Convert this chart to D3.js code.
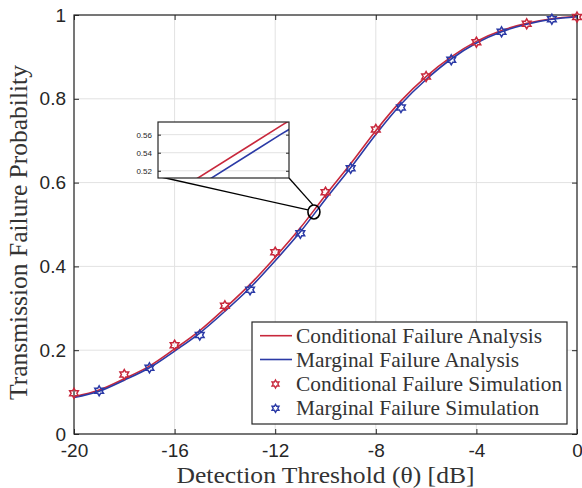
<!DOCTYPE html>
<html><head><meta charset="utf-8">
<script src="https://cdn.jsdelivr.net/npm/d3@7"></script>
<style>body{margin:0;background:#fff;} svg{display:block;}</style>
</head><body>
<script>
// ---- data ----
const analysisX = [-20,-19,-18,-17,-16,-15,-14,-13,-12,-11,-10,-9,-8,-7,-6,-5,-4,-3,-2,-1,0];
const conditionalAnalysis = [0.089,0.105,0.132,0.162,0.203,0.247,0.300,0.357,0.422,0.492,0.570,0.645,0.724,0.795,0.853,0.900,0.937,0.963,0.980,0.991,0.997];
const marginalAnalysis    = [0.087,0.102,0.1285,0.158,0.198,0.241,0.293,0.349,0.4135,0.4825,0.5605,0.6355,0.715,0.787,0.846,0.895,0.933,0.960,0.978,0.990,0.996];
const conditionalSimX = [-20,-18,-16,-14,-12,-10,-8,-6,-4,-2,0];
const conditionalSim  = [0.097,0.142,0.212,0.306,0.434,0.577,0.727,0.853,0.935,0.979,0.995];
const marginalSimX = [-19,-17,-15,-13,-11,-9,-7,-5,-3,-1];
const marginalSim  = [0.103,0.158,0.236,0.344,0.479,0.634,0.779,0.893,0.960,0.990];
const xTicks = [-20,-16,-12,-8,-4,0];
const yTicks = [0,0.2,0.4,0.6,0.8,1];
const insetXDomain = [-11.1,-9.93];
const insetYDomain = [0.512,0.574];
const insetYTicks = [0.52,0.54,0.56];
const zoomCenter = [-10.46,0.53];
const seriesNames = ["Conditional Failure Analysis","Marginal Failure Analysis","Conditional Failure Simulation","Marginal Failure Simulation"];

const RED = "#c8283c", BLUE = "#2b3aa6";
const W = 582, H = 488;
const M = {l:74, r:577, t:15, b:434};

const svg = d3.select("body").append("svg").attr("width",W).attr("height",H);
const x = d3.scaleLinear().domain([-20,0]).range([M.l,M.r]);
const y = d3.scaleLinear().domain([0,1]).range([M.b,M.t]);

// grid
const g = svg.append("g");
g.selectAll(".gx").data(xTicks).join("line")
  .attr("x1",d=>x(d)).attr("x2",d=>x(d)).attr("y1",M.t).attr("y2",M.b)
  .attr("stroke","#e2e2e2").attr("stroke-width",1);
g.selectAll(".gy").data(yTicks).join("line")
  .attr("y1",d=>y(d)).attr("y2",d=>y(d)).attr("x1",M.l).attr("x2",M.r)
  .attr("stroke","#e2e2e2").attr("stroke-width",1);

// axes
const fontSans = "'Liberation Sans', Arial, Helvetica, sans-serif";
const fontSerif = "'Liberation Serif', 'Times New Roman', serif";
function styleAxis(sel){
  sel.select(".domain").remove();
  sel.selectAll(".tick line").attr("stroke","#262626").attr("stroke-width",1);
  sel.selectAll("text").attr("font-family",fontSans).attr("font-size",19).attr("fill","#262626");
}
const ax = svg.append("g").attr("transform",`translate(0,${M.b})`)
  .call(d3.axisBottom(x).tickValues(xTicks).tickFormat(d3.format("d")).tickSizeInner(-5).tickSizeOuter(0).tickPadding(10));
styleAxis(ax);
ax.selectAll("text").text(d=>d===0?"0":String(d).replace("−","-"));
svg.append("g").attr("transform",`translate(0,${M.t})`)
  .call(d3.axisTop(x).tickValues(xTicks).tickFormat("").tickSizeInner(-5).tickSizeOuter(0)).call(styleAxis);
const ay = svg.append("g").attr("transform",`translate(${M.l},0)`)
  .call(d3.axisLeft(y).tickValues(yTicks).tickFormat(d=>d===0||d===1?String(d):d3.format(".1f")(d)).tickSizeInner(-5).tickSizeOuter(0).tickPadding(8));
styleAxis(ay);
svg.append("g").attr("transform",`translate(${M.r},0)`)
  .call(d3.axisRight(y).tickValues(yTicks).tickFormat("").tickSizeInner(-5).tickSizeOuter(0)).call(styleAxis);
svg.append("rect").attr("x",M.l).attr("y",M.t).attr("width",M.r-M.l).attr("height",M.b-M.t)
  .attr("fill","none").attr("stroke","#262626").attr("stroke-width",1.2);

// lines
const line = d3.line().x(d=>x(d[0])).y(d=>y(d[1])).curve(d3.curveMonotoneX);
svg.append("path").datum(analysisX.map((v,i)=>[v,conditionalAnalysis[i]]))
  .attr("d",line).attr("fill","none").attr("stroke",RED).attr("stroke-width",1.6);
svg.append("path").datum(analysisX.map((v,i)=>[v,marginalAnalysis[i]]))
  .attr("d",line).attr("fill","none").attr("stroke",BLUE).attr("stroke-width",1.6);

// hexagram marker
function hexagram(R){
  const r = R/Math.sqrt(3), pts=[];
  for(let k=0;k<12;k++){
    const a = -Math.PI/2 + k*Math.PI/6;
    const rad = k%2===0?R:r;
    pts.push([rad*Math.cos(a), rad*Math.sin(a)]);
  }
  return "M"+pts.map(p=>p[0].toFixed(2)+","+p[1].toFixed(2)).join("L")+"Z";
}
function markers(xs,vals,color){
  svg.append("g").selectAll("path").data(xs.map((v,i)=>[v,vals[i]])).join("path")
    .attr("transform",d=>`translate(${x(d[0])},${y(d[1])})`)
    .attr("d",hexagram(5)).attr("fill","none").attr("stroke",color).attr("stroke-width",1.5);
}
markers(conditionalSimX,conditionalSim,RED);
markers(marginalSimX,marginalSim,BLUE);

// zoom ellipse + connectors
const cx = x(zoomCenter[0]), cy = y(zoomCenter[1]);
const IX = {l:158, r:289, t:122, b:178};
svg.append("line").attr("x1",IX.l+3).attr("y1",IX.b-1).attr("x2",cx-6).attr("y2",cy-2)
  .attr("stroke","#000").attr("stroke-width",1.3);
svg.append("line").attr("x1",IX.r).attr("y1",IX.b).attr("x2",cx-1).attr("y2",cy-7)
  .attr("stroke","#000").attr("stroke-width",1.3);
svg.append("ellipse").attr("cx",cx).attr("cy",cy).attr("rx",6).attr("ry",7)
  .attr("fill","none").attr("stroke","#000").attr("stroke-width",1.6);

// inset
const ix = d3.scaleLinear().domain(insetXDomain).range([IX.l,IX.r]);
const iy = d3.scaleLinear().domain(insetYDomain).range([IX.b,IX.t]);
const inset = svg.append("g");
inset.append("rect").attr("x",IX.l).attr("y",IX.t).attr("width",IX.r-IX.l).attr("height",IX.b-IX.t).attr("fill","#fff");
inset.selectAll(".ig").data(insetYTicks).join("line")
  .attr("x1",IX.l).attr("x2",IX.r).attr("y1",d=>iy(d)).attr("y2",d=>iy(d))
  .attr("stroke","#e2e2e2").attr("stroke-width",1);
svg.append("defs").append("clipPath").attr("id","iclip").append("rect")
  .attr("x",IX.l).attr("y",IX.t).attr("width",IX.r-IX.l).attr("height",IX.b-IX.t);
const iline = d3.line().x(d=>ix(d[0])).y(d=>iy(d[1]));
const ic = inset.append("g").attr("clip-path","url(#iclip)");
ic.append("path").datum(analysisX.map((v,i)=>[v,conditionalAnalysis[i]]))
  .attr("d",iline).attr("fill","none").attr("stroke",RED).attr("stroke-width",1.6);
ic.append("path").datum(analysisX.map((v,i)=>[v,marginalAnalysis[i]]))
  .attr("d",iline).attr("fill","none").attr("stroke",BLUE).attr("stroke-width",1.6);
const iay = inset.append("g").attr("transform",`translate(${IX.l},0)`)
  .call(d3.axisLeft(iy).tickValues(insetYTicks).tickFormat(d3.format(".2f")).tickSizeInner(-3).tickSizeOuter(0).tickPadding(6));
iay.select(".domain").remove();
iay.selectAll(".tick line").attr("stroke","#262626");
iay.selectAll("text").attr("font-family",fontSans).attr("font-size",8).attr("fill","#262626");
const iar = inset.append("g").attr("transform",`translate(${IX.r},0)`)
  .call(d3.axisRight(iy).tickValues(insetYTicks).tickFormat("").tickSizeInner(-3).tickSizeOuter(0));
iar.select(".domain").remove();
iar.selectAll(".tick line").attr("stroke","#262626");
inset.append("rect").attr("x",IX.l).attr("y",IX.t).attr("width",IX.r-IX.l).attr("height",IX.b-IX.t)
  .attr("fill","none").attr("stroke","#262626").attr("stroke-width",1.2);

// axis titles
svg.append("text").attr("x",(M.l+M.r)/2).attr("y",482.5).attr("text-anchor","middle")
  .attr("font-family",fontSerif).attr("font-size",23).attr("fill","#333")
  .attr("textLength",298).attr("lengthAdjust","spacingAndGlyphs")
  .text("Detection Threshold (θ) [dB]");
svg.append("text").attr("transform",`translate(27,${(M.t+M.b)/2+8}) rotate(-90)`).attr("text-anchor","middle")
  .attr("font-family",fontSerif).attr("font-size",25.5).attr("fill","#333")
  .text("Transmission Failure Probability");

// legend
const L = {l:252, r:567, t:322, b:424};
const lg = svg.append("g");
lg.append("rect").attr("x",L.l).attr("y",L.t).attr("width",L.r-L.l).attr("height",L.b-L.t)
  .attr("fill","#fff").attr("stroke","#262626").attr("stroke-width",1.2);
const rowY = [335.7,359.5,384,408.3];
const kinds = [["line",RED],["line",BLUE],["mark",RED],["mark",BLUE]];
seriesNames.forEach((name,i)=>{
  const [k,c] = kinds[i];
  if(k==="line") lg.append("line").attr("x1",260).attr("x2",292).attr("y1",rowY[i]).attr("y2",rowY[i]).attr("stroke",c).attr("stroke-width",1.6);
  else lg.append("path").attr("transform",`translate(275.5,${rowY[i]})`).attr("d",hexagram(4)).attr("fill","none").attr("stroke",c).attr("stroke-width",1.4);
  lg.append("text").attr("x",296).attr("y",rowY[i]).attr("dy","0.33em")
    .attr("font-family",fontSerif).attr("font-size",21.4).attr("fill","#333").text(name);
});
</script>
</body></html>
